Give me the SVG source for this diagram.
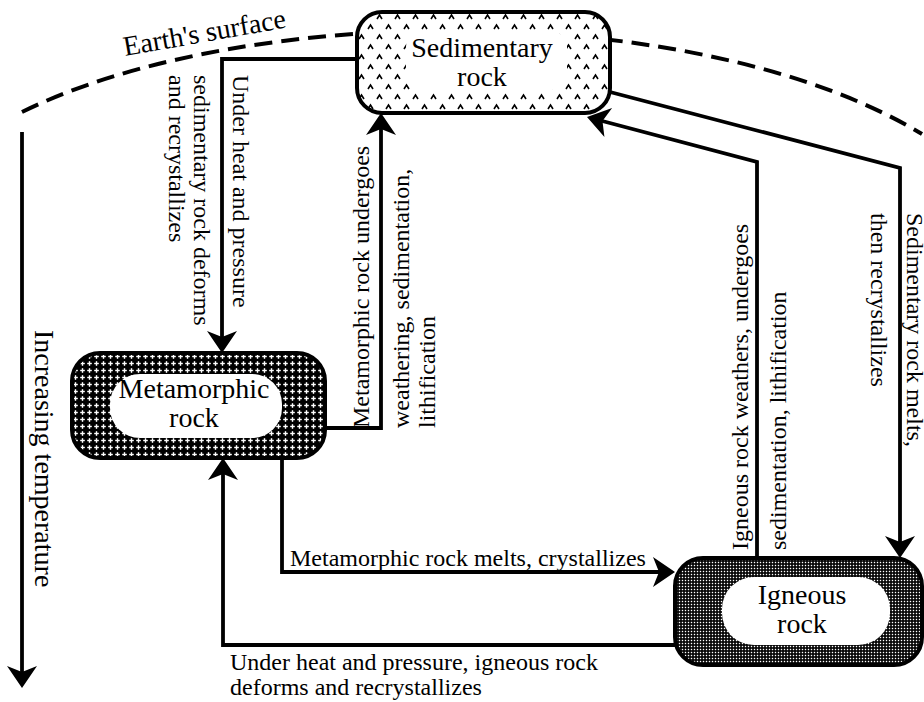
<svg xmlns="http://www.w3.org/2000/svg" width="924" height="702" viewBox="0 0 924 702">
<style>
text{font-family:"Liberation Serif","Times New Roman",serif;fill:#000}
.lbl{font-size:24px}
.node{font-size:28px;text-anchor:middle}
.big{font-size:28px}
.conn{fill:none;stroke:#000;stroke-width:3.8;stroke-linejoin:miter;marker-end:url(#ah)}
.box{stroke:#000;stroke-width:4}
</style>
<defs>
<marker id="ah" markerUnits="userSpaceOnUse" viewBox="-18 -16 26 32" markerWidth="26" markerHeight="32" refX="0" refY="0" orient="auto">
<path d="M6,0 L-16,-15 L-10,0 L-16,15 Z" fill="#000"/>
</marker>
<pattern id="sedPat" patternUnits="userSpaceOnUse" x="357" y="12" width="18" height="20">
<rect width="18" height="20" fill="#fff"/>
<path d="M2,7 L4.5,3 L7,7 M11,17 L13.5,13 L16,17" fill="none" stroke="#000" stroke-width="1.6"/>
</pattern>
<pattern id="metPat" patternUnits="userSpaceOnUse" x="72" y="353" width="7" height="7">
<rect width="7" height="7" fill="#000"/>
<rect x="2.8" y="1.2" width="1.4" height="4.6" fill="#fff"/>
<rect x="1.2" y="2.8" width="4.6" height="1.4" fill="#fff"/>
</pattern>
<pattern id="ignPat" patternUnits="userSpaceOnUse" x="675" y="558" width="3" height="3">
<rect width="3" height="3" fill="#000"/>
<rect x="0.8" y="0.8" width="1.4" height="1.4" fill="#fff"/>
</pattern>
</defs>
<rect width="924" height="702" fill="#fff"/>

<g id="earth-surface">
<path d="M22,112 C250,0 700,0 922,134" fill="none" stroke="#000" stroke-width="4" stroke-dasharray="18 9"/>
<text class="big" x="125" y="56" transform="rotate(-10 125 56)">Earth's surface</text>
</g>

<g id="sedimentary">
<rect class="box" x="357" y="12" width="253" height="101" rx="25" fill="url(#sedPat)"/>
<rect x="406" y="31" width="161" height="59" rx="16" fill="#fff"/>
<text class="node" x="482" y="57">Sedimentary</text>
<text class="node" x="482" y="86">rock</text>
</g>

<g id="metamorphic">
<rect class="box" x="72" y="353" width="253" height="105" rx="28" fill="url(#metPat)"/>
<rect x="110" y="374" width="172" height="64" rx="30" fill="#fff"/>
<text class="node" x="194" y="398">Metamorphic</text>
<text class="node" x="194" y="427">rock</text>
</g>

<g id="igneous">
<rect class="box" x="675" y="558" width="247" height="107" rx="28" fill="url(#ignPat)"/>
<rect x="722" y="577" width="168" height="68" rx="32" fill="#fff"/>
<text class="node" x="802" y="604">Igneous</text>
<text class="node" x="802" y="633">rock</text>
</g>

<g id="connectors">
<path class="conn" d="M357,59 H222 V347"/>
<path class="conn" d="M325,428 H381 V119"/>
<path class="conn" d="M282,458 V572 H669"/>
<path class="conn" d="M675,645 H223 V464"/>
<path class="conn" d="M757,558 V162 L592.8,118.5"/>
<path class="conn" d="M610,92 L900,168 V552"/>
<path class="conn" d="M22,132 V682"/>
</g>

<g id="labels">
<text class="big" transform="translate(35,330) rotate(90)">Increasing temperature</text>
<text class="lbl" transform="translate(233,75) rotate(90)">Under heat and pressure</text>
<text class="lbl" transform="translate(194,75) rotate(90)">sedimentary rock deforms</text>
<text class="lbl" transform="translate(169,75) rotate(90)">and recrystallizes</text>
<text class="lbl" transform="translate(369,428) rotate(-90)">Metamorphic rock undergoes</text>
<text class="lbl" transform="translate(409,428) rotate(-90)">weathering, sedimentation,</text>
<text class="lbl" transform="translate(435,428) rotate(-90)">lithification</text>
<text class="lbl" transform="translate(748,550) rotate(-90)">Igneous rock weathers, undergoes</text>
<text class="lbl" transform="translate(786,550) rotate(-90)">sedimentation, lithification</text>
<text class="lbl" transform="translate(907,213) rotate(90)">Sedimentary rock melts,</text>
<text class="lbl" transform="translate(871,213) rotate(90)">then recrystallizes</text>
<text class="lbl" x="290" y="566">Metamorphic rock melts, crystallizes</text>
<text class="lbl" x="230" y="670">Under heat and pressure, igneous rock</text>
<text class="lbl" x="230" y="695">deforms and recrystallizes</text>
</g>
</svg>
